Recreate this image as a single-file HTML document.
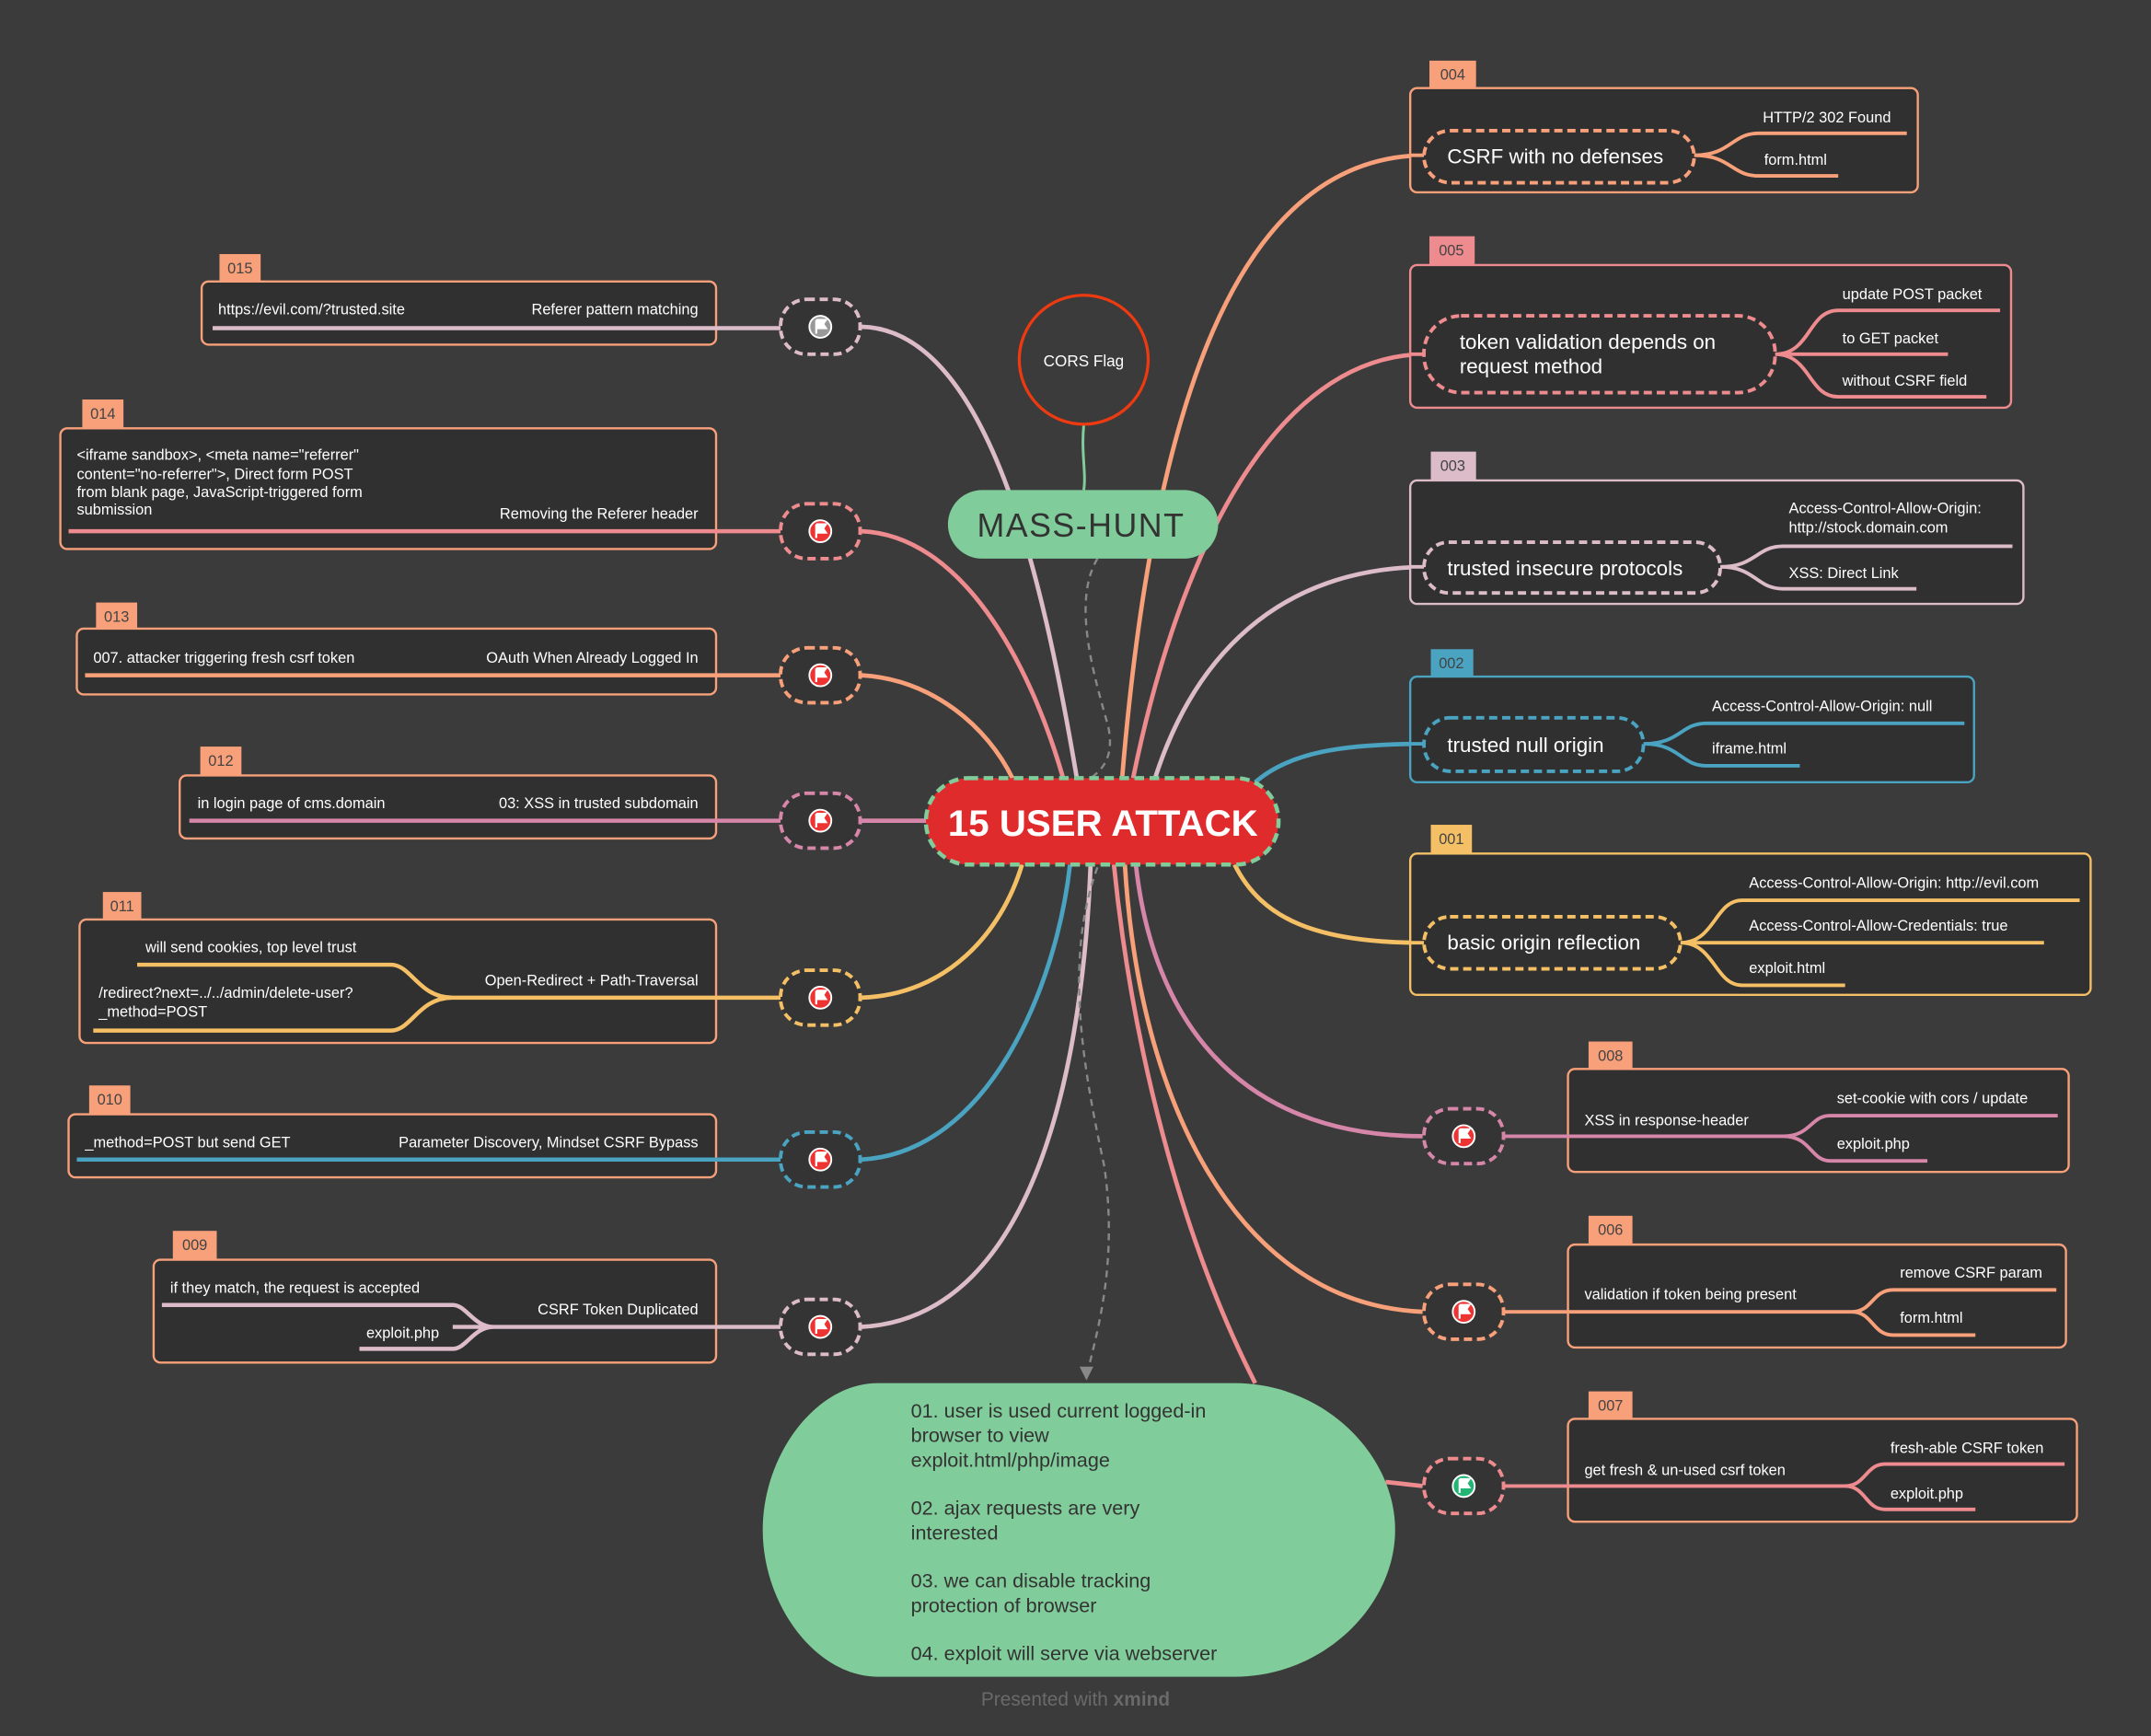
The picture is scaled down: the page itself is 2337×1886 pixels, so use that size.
<!DOCTYPE html>
<html><head><meta charset="utf-8"><style>
html,body{margin:0;padding:0;background:#3b3b3b;}
svg{display:block}
text{font-family:"Liberation Sans",sans-serif;}
.t{fill:#fff;font-size:11px}
.tag{fill:#444;font-size:11px}
.box{fill:#303030;stroke-width:1.6}
</style></head><body>
<svg width="2337" height="1886" viewBox="0 0 1568 1265" xmlns="http://www.w3.org/2000/svg">
<defs>
<g id="flag"><circle r="8" fill="#e33" stroke="#fff" stroke-width="1.3"/><path d="M-3,5 V-5 M-3,-5 H4 L2,-2 L4,1 H-3" stroke="#fff" stroke-width="1.5" fill="#fff"/></g>
<g id="flagg"><circle r="8" fill="#999" stroke="#fff" stroke-width="1.3"/><path d="M-3,5 V-5 M-3,-5 H4 L2,-2 L4,1 H-3" stroke="#fff" stroke-width="1.5" fill="#fff"/></g>
<g id="flaggr"><circle r="8" fill="#22b574" stroke="#fff" stroke-width="1.3"/><path d="M-3,5 V-5 M-3,-5 H4 L2,-2 L4,1 H-3" stroke="#fff" stroke-width="1.5" fill="#fff"/></g>
</defs>
<rect width="1568" height="1265" fill="#3b3b3b"/>

<!-- main connectors -->
<g fill="none" stroke-width="3.2">
<path d="M628,238 C720,240 760,420 785,567" stroke="#dcbcc8"/>
<path d="M628,387 C700,390 750,480 775,567" stroke="#ee8b8f"/>
<path d="M628,492 C680,495 720,530 738,567" stroke="#f7a07a"/>
<path d="M628,598 L675,598" stroke="#d686a8"/>
<path d="M628,727 C690,725 730,680 745,630" stroke="#f5c065"/>
<path d="M628,845 C720,840 770,720 780,630" stroke="#4aa3c0"/>
<path d="M628,967 C760,960 790,760 795,630" stroke="#dcbcc8"/>
<path d="M1037,113 C900,115 840,300 818,567" stroke="#f7a07a"/>
<path d="M1037,258 C930,260 860,400 826,567" stroke="#ee8b8f"/>
<path d="M1037,413 C930,415 870,480 842,567" stroke="#dcbcc8"/>
<path d="M1037,542 C980,542 940,548 915,570" stroke="#4aa3c0"/>
<path d="M1037,687 C960,687 920,670 900,630" stroke="#f5c065"/>
<path d="M1037,828 C900,828 840,740 828,630" stroke="#d686a8"/>
<path d="M1037,956 C900,950 830,800 820,630" stroke="#f7a07a"/>
<path d="M915,1008 C860,900 825,760 812,630" stroke="#ee8b8f"/>
<path d="M1010,1080 L1037,1083" stroke="#ee8b8f"/>
<path d="M790,310 C788,330 792,345 790,357" stroke="#80cc9a" stroke-width="2"/>
</g>
<g fill="none" stroke="#888" stroke-width="1.6" stroke-dasharray="5,4">
<path d="M800,407 C780,440 800,500 808,530 C812,550 805,560 795,567"/>
<path d="M800,632 C775,700 790,780 805,850 C815,920 800,970 792,1003"/>
</g>
<path d="M787,996 L797,996 L792,1006 Z" fill="#888"/>

<!-- CORS flag circle -->
<circle cx="790" cy="262" r="47" fill="none" stroke="#ee3a10" stroke-width="2.2"/>
<text x="790" y="267" text-anchor="middle" fill="#fff" font-size="11.5">CORS Flag</text>

<!-- MASS-HUNT -->
<rect x="691" y="357" width="197" height="50" rx="25" fill="#80cc9a"/>
<text x="788" y="391" text-anchor="middle" fill="#333" font-size="24" letter-spacing="1">MASS-HUNT</text>

<!-- Center -->
<rect x="675" y="567" width="257" height="63" rx="31" fill="#e02b2d" stroke="#80cc9a" stroke-width="3" stroke-dasharray="7,4"/>
<text x="804" y="609" text-anchor="middle" fill="#fff" font-size="27" font-weight="bold">15 USER ATTACK</text>

<!-- Green blob -->
<path d="M640,1008 H900 C965,1008 1017,1060 1017,1115 C1017,1170 965,1222 900,1222 H640 C595,1222 556,1170 556,1115 C556,1060 595,1008 640,1008 Z" fill="#80cc9a"/>
<g fill="#333" font-size="14.5">
<text x="664" y="1033">01. user is used current logged-in</text>
<text x="664" y="1051">browser to view</text>
<text x="664" y="1069">exploit.html/php/image</text>
<text x="664" y="1104">02. ajax requests are very</text>
<text x="664" y="1122">interested</text>
<text x="664" y="1157">03. we can disable tracking</text>
<text x="664" y="1175">protection of browser</text>
<text x="664" y="1210">04. exploit will serve via webserver</text>
</g>
<text x="784" y="1243" text-anchor="middle" fill="#6a6a6a" font-size="14">Presented with <tspan font-weight="bold">xmind</tspan></text>

<!-- node circles -->
<g fill="#343434" stroke-width="2.6" stroke-dasharray="6,3.5">
<rect x="569" y="218" width="58" height="40" rx="19" stroke="#dcbcc8"/>
<rect x="569" y="367" width="58" height="40" rx="19" stroke="#ee8b8f"/>
<rect x="569" y="472" width="58" height="40" rx="19" stroke="#f7a07a"/>
<rect x="569" y="578" width="58" height="40" rx="19" stroke="#d686a8"/>
<rect x="569" y="707" width="58" height="40" rx="19" stroke="#f5c065"/>
<rect x="569" y="825" width="58" height="40" rx="19" stroke="#4aa3c0"/>
<rect x="569" y="947" width="58" height="40" rx="19" stroke="#dcbcc8"/>
<rect x="1038" y="808" width="58" height="40" rx="19" stroke="#d686a8"/>
<rect x="1038" y="936" width="58" height="40" rx="19" stroke="#f7a07a"/>
<rect x="1038" y="1063" width="58" height="40" rx="19" stroke="#ee8b8f"/>
</g>
<use href="#flagg" x="598" y="238"/>
<use href="#flag" x="598" y="387"/>
<use href="#flag" x="598" y="492"/>
<use href="#flag" x="598" y="598"/>
<use href="#flag" x="598" y="727"/>
<use href="#flag" x="598" y="845"/>
<use href="#flag" x="598" y="967"/>
<use href="#flag" x="1067" y="828"/>
<use href="#flag" x="1067" y="956"/>
<use href="#flaggr" x="1067" y="1083"/>

<!-- LEFT BOXES -->
<g stroke="#f7a07a">
<rect class="box" x="147" y="205" width="375" height="46" rx="5"/>
<rect class="box" x="44" y="312" width="478" height="88" rx="5"/>
<rect class="box" x="56" y="458" width="466" height="48" rx="5"/>
<rect class="box" x="131" y="565" width="391" height="46" rx="5"/>
<rect class="box" x="58" y="670" width="464" height="90" rx="5"/>
<rect class="box" x="50" y="812" width="472" height="46" rx="5"/>
<rect class="box" x="112" y="918" width="410" height="75" rx="5"/>
</g>
<g fill="#f7a07a">
<rect x="160" y="185" width="30" height="20"/><rect x="60" y="291" width="30" height="21"/>
<rect x="70" y="439" width="30" height="19"/><rect x="146" y="544" width="30" height="21"/>
<rect x="75" y="650" width="28" height="20"/><rect x="65" y="791" width="30" height="21"/>
<rect x="126" y="897" width="32" height="21"/>
<rect x="1042" y="44" width="34" height="20"/><rect x="1158" y="759" width="32" height="20"/>
<rect x="1158" y="886" width="32" height="21"/><rect x="1158" y="1014" width="32" height="20"/>
</g>
<rect x="1042" y="172" width="33" height="21" fill="#ee8b8f"/>
<rect x="1043" y="329" width="33" height="21" fill="#dcbcc8"/>
<rect x="1043" y="473" width="31" height="20" fill="#4aa3c0"/>
<rect x="1043" y="601" width="30" height="21" fill="#f5c065"/>
<g class="tag" text-anchor="middle">
<text x="175" y="199" class="tag">015</text><text x="75" y="305" class="tag">014</text>
<text x="85" y="453" class="tag">013</text><text x="161" y="558" class="tag">012</text>
<text x="89" y="664" class="tag">011</text><text x="80" y="805" class="tag">010</text>
<text x="142" y="911" class="tag">009</text><text x="1059" y="58" class="tag">004</text>
<text x="1058" y="186" class="tag">005</text><text x="1059" y="343" class="tag">003</text>
<text x="1058" y="487" class="tag">002</text><text x="1058" y="615" class="tag">001</text>
<text x="1174" y="773" class="tag">008</text><text x="1174" y="900" class="tag">006</text>
<text x="1174" y="1028" class="tag">007</text>
</g>

<!-- left box lines -->
<g fill="none" stroke-width="3">
<path d="M155,239 H569" stroke="#dcbcc8"/>
<path d="M50,387 H569" stroke="#ee8b8f"/>
<path d="M62,492 H569" stroke="#f7a07a"/>
<path d="M138,598 H569" stroke="#d686a8"/>
<path d="M330,727 H569 M100,703 H285 C300,703 305,727 330,727 M68,751 H285 C300,751 305,727 330,727" stroke="#f5c065"/>
<path d="M56,845 H569" stroke="#4aa3c0"/>
<path d="M330,967 H569 M118,951 H330 C340,951 345,967 360,967 M262,983 H330 C340,983 345,967 360,967" stroke="#dcbcc8"/>
</g>
<g class="t">
<text x="159" y="229" class="t">https://evil.com/?trusted.site</text>
<text x="509" y="229" class="t" text-anchor="end">Referer pattern matching</text>
<text x="56" y="335" class="t">&lt;iframe sandbox&gt;, &lt;meta name="referrer"</text>
<text x="56" y="349" class="t">content="no-referrer"&gt;, Direct form POST</text>
<text x="56" y="362" class="t">from blank page, JavaScript-triggered form</text>
<text x="56" y="375" class="t">submission</text>
<text x="509" y="378" class="t" text-anchor="end">Removing the Referer header</text>
<text x="68" y="483" class="t">007. attacker triggering fresh csrf token</text>
<text x="509" y="483" class="t" text-anchor="end">OAuth When Already Logged In</text>
<text x="144" y="589" class="t">in login page of cms.domain</text>
<text x="509" y="589" class="t" text-anchor="end">03: XSS in trusted subdomain</text>
<text x="106" y="694" class="t">will send cookies, top level trust</text>
<text x="72" y="727" class="t">/redirect?next=../../admin/delete-user?</text>
<text x="72" y="741" class="t">_method=POST</text>
<text x="509" y="718" class="t" text-anchor="end">Open-Redirect + Path-Traversal</text>
<text x="62" y="836" class="t">_method=POST but send GET</text>
<text x="509" y="836" class="t" text-anchor="end">Parameter Discovery, Mindset CSRF Bypass</text>
<text x="124" y="942" class="t">if they match, the request is accepted</text>
<text x="267" y="975" class="t">exploit.php</text>
<text x="509" y="958" class="t" text-anchor="end">CSRF Token Duplicated</text>
</g>

<!-- RIGHT BOXES -->
<rect class="box" x="1028" y="64" width="370" height="76" rx="5" stroke="#f7a07a"/>
<rect class="box" x="1028" y="193" width="438" height="104" rx="5" stroke="#ee8b8f"/>
<rect class="box" x="1028" y="350" width="447" height="90" rx="5" stroke="#dcbcc8"/>
<rect class="box" x="1028" y="493" width="411" height="77" rx="5" stroke="#4aa3c0"/>
<rect class="box" x="1028" y="622" width="496" height="103" rx="5" stroke="#f5c065"/>
<rect class="box" x="1143" y="779" width="365" height="75" rx="5" stroke="#f7a07a"/>
<rect class="box" x="1143" y="907" width="363" height="75" rx="5" stroke="#f7a07a"/>
<rect class="box" x="1143" y="1034" width="371" height="75" rx="5" stroke="#f7a07a"/>

<g fill="none" stroke-width="2.6" stroke-dasharray="6,3.5">
<rect x="1038" y="95" width="197" height="38" rx="19" stroke="#f7a07a"/>
<rect x="1038" y="230" width="256" height="56" rx="27" stroke="#ee8b8f"/>
<rect x="1038" y="395" width="216" height="37" rx="18" stroke="#dcbcc8"/>
<rect x="1038" y="523" width="160" height="39" rx="19" stroke="#4aa3c0"/>
<rect x="1038" y="668" width="187" height="38" rx="19" stroke="#f5c065"/>
</g>
<g fill="none" stroke-width="2.6">
<path d="M1028,113 H1038 M1235,113 C1262,113 1262,97 1282,97 H1390 M1235,113 C1262,113 1262,128 1282,128 H1340" stroke="#f7a07a"/>
<path d="M1028,258 H1038 M1294,258 C1320,258 1318,226 1340,226 H1458 M1294,258 H1420 M1294,258 C1320,258 1318,289 1340,289 H1448" stroke="#ee8b8f"/>
<path d="M1028,413 H1038 M1254,413 C1280,413 1280,398 1300,398 H1467 M1254,413 C1280,413 1280,429 1300,429 H1397" stroke="#dcbcc8"/>
<path d="M1028,542 H1038 M1198,542 C1225,542 1225,527 1244,527 H1432 M1198,542 C1225,542 1225,558 1244,558 H1312" stroke="#4aa3c0"/>
<path d="M1028,687 H1038 M1225,687 C1250,687 1250,656 1270,656 H1516 M1225,687 H1490 M1225,687 C1250,687 1250,718 1270,718 H1345" stroke="#f5c065"/>
<path d="M1096,828 H1300 C1320,828 1320,813 1334,813 H1500 M1300,828 C1320,828 1320,846 1334,846 H1405" stroke="#d686a8"/>
<path d="M1096,956 H1350 C1365,956 1365,940 1380,940 H1499 M1350,956 C1365,956 1365,973 1380,973 H1440" stroke="#f7a07a"/>
<path d="M1096,1083 H1345 C1360,1083 1360,1067 1374,1067 H1505 M1345,1083 C1360,1083 1360,1100 1374,1100 H1440" stroke="#ee8b8f"/>
</g>
<g class="t">
<text x="1055" y="119" font-size="15" fill="#fff">CSRF with no defenses</text>
<text x="1285" y="89" class="t">HTTP/2 302 Found</text>
<text x="1286" y="120" class="t">form.html</text>
<text x="1064" y="254" font-size="15" fill="#fff">token validation depends on</text>
<text x="1064" y="272" font-size="15" fill="#fff">request method</text>
<text x="1343" y="218" class="t">update POST packet</text>
<text x="1343" y="250" class="t">to GET packet</text>
<text x="1343" y="281" class="t">without CSRF field</text>
<text x="1055" y="419" font-size="15" fill="#fff">trusted insecure protocols</text>
<text x="1304" y="374" class="t">Access-Control-Allow-Origin:</text>
<text x="1304" y="388" class="t">http://stock.domain.com</text>
<text x="1304" y="421" class="t">XSS: Direct Link</text>
<text x="1055" y="548" font-size="15" fill="#fff">trusted null origin</text>
<text x="1248" y="518" class="t">Access-Control-Allow-Origin: null</text>
<text x="1248" y="549" class="t">iframe.html</text>
<text x="1055" y="692" font-size="15" fill="#fff">basic origin reflection</text>
<text x="1275" y="647" class="t">Access-Control-Allow-Origin: http://evil.com</text>
<text x="1275" y="678" class="t">Access-Control-Allow-Credentials: true</text>
<text x="1275" y="709" class="t">exploit.html</text>
<text x="1155" y="820" class="t">XSS in response-header</text>
<text x="1339" y="804" class="t">set-cookie with cors / update</text>
<text x="1339" y="837" class="t">exploit.php</text>
<text x="1155" y="947" class="t">validation if token being present</text>
<text x="1385" y="931" class="t">remove CSRF param</text>
<text x="1385" y="964" class="t">form.html</text>
<text x="1155" y="1075" class="t">get fresh &amp; un-used csrf token</text>
<text x="1378" y="1059" class="t">fresh-able CSRF token</text>
<text x="1378" y="1092" class="t">exploit.php</text>
</g>
</svg>
</body></html>
